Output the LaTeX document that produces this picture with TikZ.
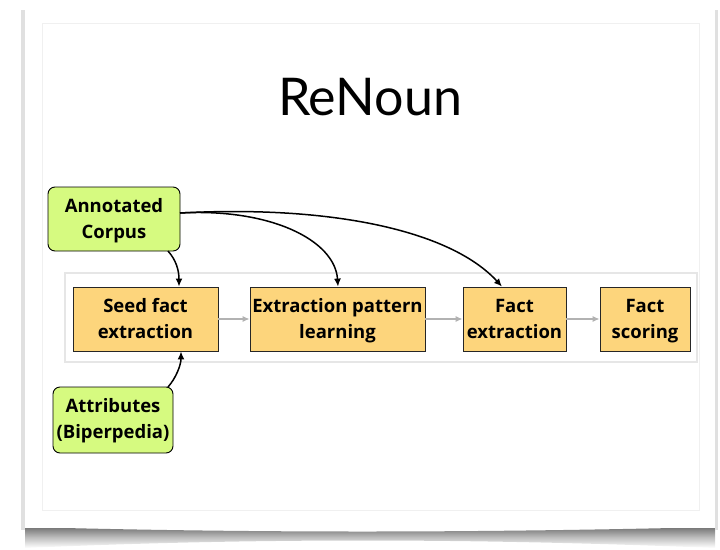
\documentclass[tikz,border=0pt]{standalone}
\usepackage{fontspec}
\setmainfont{Open Sans}
\newfontfamily\titlefont{Lato}
\usetikzlibrary{arrows.meta}
\definecolor{lime}{HTML}{D6FA80}
\definecolor{boxorange}{HTML}{FDD57C}
\definecolor{framegray}{HTML}{E6E6E6}
\tikzset{
  boxtext/.style={align=center, font=\bfseries\fontsize{18.5}{26}\selectfont, inner sep=0pt,
    text height=45pt, text depth=6pt},
  srcbox/.style={boxtext, draw=black, line width=0.9pt, fill=lime, rounded corners=7pt},
  stagebox/.style={boxtext, draw=black!85, line width=0.8pt, fill=boxorange},
  flow/.style={draw=black!30, line width=1.2pt, -{Latex[length=7pt,width=6pt]}},
  feed/.style={draw=black, line width=1.5pt, -{Latex[length=8pt,width=7pt]}}
}
\begin{document}
\begin{tikzpicture}[x=1pt,y=-1pt]
\useasboundingbox (0,0) rectangle (720,549);
% shadow under the card
\shade[top color=black!55, bottom color=white, middle color=black!25]
  (25,527) .. controls (250,533) and (470,533) .. (715,527) -- (715,548) .. controls (470,538) and (250,538) .. (25,548) -- cycle;
\fill[black!12] (21,10) rectangle (25,530);
\fill[black!12] (715,10) rectangle (718,530);
% card
\fill[white] (25,5) rectangle (715,528);
\draw[black!6, line width=0.8pt] (42,23) rectangle (699,510);
% title
\node[font=\titlefont\fontsize{52}{60}\selectfont, text=black] (title) at (370,97) {ReNoun};
% container
\draw[framegray, line width=1.2pt, fill=white] (65,273) rectangle (697,362);
% stages
\node[stagebox, minimum width=145pt, minimum height=64pt] (seed) at (145.5,319) {Seed fact\\extraction};
\node[stagebox, minimum width=175pt, minimum height=64pt] (pattern) at (337.5,319) {Extraction pattern\\learning};
\node[stagebox, minimum width=103pt, minimum height=64pt] (fext) at (514.5,319) {Fact\\extraction};
\node[stagebox, minimum width=90pt, minimum height=64pt] (fscore) at (645,319) {Fact\\scoring};
% sources
\node[srcbox, minimum width=132pt, minimum height=64pt] (corpus) at (114,219) {Annotated\\Corpus};
\node[srcbox, minimum width=120pt, minimum height=66pt, text height=43pt] (attr) at (113,420) {Attributes\\(Biperpedia)};
% flow arrows
\draw[flow] (seed.east) -- (pattern.west);
\draw[flow] (pattern.east) -- (fext.west);
\draw[flow] (fext.east) -- (fscore.west);
% feeds
\coordinate (cb) at (168,251);
\coordinate (cr) at (180,213);
\coordinate (at) at (168,387);
\draw[feed] (cb) .. controls (176,260) and (179,270) .. (seed.north -| 179,0);
\draw[feed] (cr) .. controls (270,208) and (335,240) .. (pattern.north -| 338,0);
\draw[feed] (cr) .. controls (330,205) and (450,230) .. (fext.north -| 502,0);
\draw[feed] (at) .. controls (176,378) and (181,365) .. (seed.south -| 181,0);
\end{tikzpicture}
\end{document}
